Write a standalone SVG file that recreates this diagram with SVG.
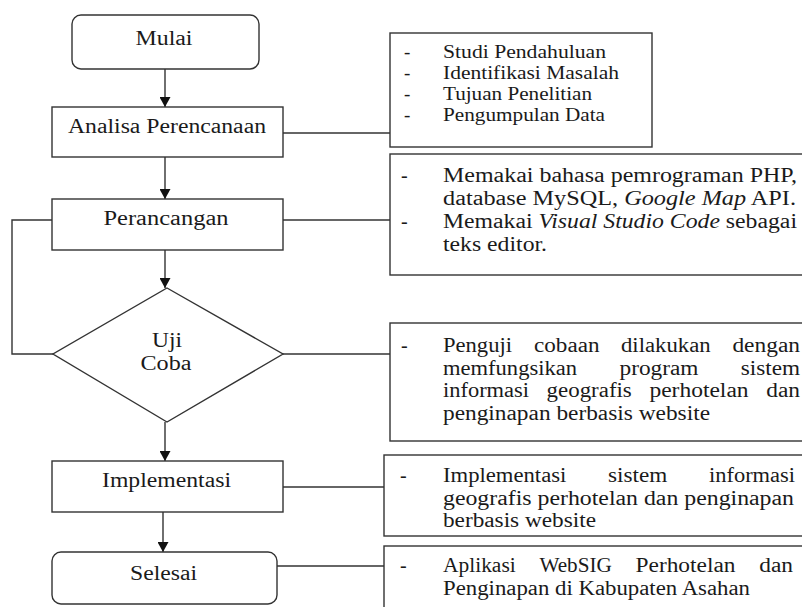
<svg xmlns="http://www.w3.org/2000/svg" width="802" height="607" viewBox="0 0 802 607">
<defs>
<marker id="arr" markerUnits="userSpaceOnUse" markerWidth="11" markerHeight="11" refX="10" refY="5.5" orient="auto">
<path d="M0,0 L10,5.5 L0,11 z" fill="#111"/>
</marker>
<style>
.s{fill:#fff;stroke:#333;stroke-width:1.4}
.c{fill:none;stroke:#333;stroke-width:1.4}
.t{fill:#1a1a1a}
.m{font-size:20px;text-anchor:middle}
.n{font-size:20px}
.n1{font-size:19px}
.i{font-style:italic}
</style>
</defs>
<rect width="802" height="607" fill="#fff"/>
<g id="connectors">
<line class="c" x1="165" y1="69" x2="165" y2="107" marker-end="url(#arr)"/>
<line class="c" x1="165" y1="157" x2="165" y2="199" marker-end="url(#arr)"/>
<line class="c" x1="165" y1="250" x2="165" y2="288" marker-end="url(#arr)"/>
<line class="c" x1="165" y1="422" x2="165" y2="461" marker-end="url(#arr)"/>
<line class="c" x1="163" y1="512" x2="163" y2="552" marker-end="url(#arr)"/>
<polyline class="c" points="52,220 12,220 12,354 53,354"/>
<line class="c" x1="283" y1="133" x2="390" y2="133"/>
<line class="c" x1="283" y1="220" x2="390" y2="220"/>
<line class="c" x1="283" y1="354" x2="390" y2="354"/>
<line class="c" x1="283" y1="487" x2="384" y2="487"/>
<line class="c" x1="277" y1="566" x2="384" y2="566"/>
</g>
<g font-family="Liberation Serif, Times New Roman, serif">
<g id="mulai">
<rect class="s" x="72" y="15" width="187" height="54" rx="9"/>
<text class="t m" x="164" y="45" textLength="57" lengthAdjust="spacingAndGlyphs">Mulai</text>
</g>
<g id="analisa">
<rect class="s" x="52" y="107" width="231" height="50"/>
<text class="t m" x="167" y="133" textLength="198" lengthAdjust="spacingAndGlyphs">Analisa Perencanaan</text>
</g>
<g id="perancangan">
<rect class="s" x="52" y="199" width="231" height="51"/>
<text class="t m" x="166" y="225" textLength="125" lengthAdjust="spacingAndGlyphs">Perancangan</text>
</g>
<g id="ujicoba">
<polygon class="s" points="167,288 283,354 167,422 53,354"/>
<text class="t m" x="167" y="347" textLength="30" lengthAdjust="spacingAndGlyphs">Uji</text>
<text class="t m" x="166" y="370" textLength="51" lengthAdjust="spacingAndGlyphs">Coba</text>
</g>
<g id="implementasi">
<rect class="s" x="52" y="461" width="231" height="51"/>
<text class="t m" x="166.5" y="487" textLength="129" lengthAdjust="spacingAndGlyphs">Implementasi</text>
</g>
<g id="selesai">
<rect class="s" x="52" y="552" width="225" height="52" rx="9"/>
<text class="t m" x="163.5" y="580" textLength="67" lengthAdjust="spacingAndGlyphs">Selesai</text>
</g>
<g id="note1">
<rect class="s" x="390" y="33" width="262" height="114"/>
<g class="t n1">
<text x="404" y="58">-</text><text x="443" y="58" textLength="163" lengthAdjust="spacingAndGlyphs">Studi Pendahuluan</text>
<text x="404" y="79">-</text><text x="443" y="79" textLength="176" lengthAdjust="spacingAndGlyphs">Identifikasi Masalah</text>
<text x="404" y="100">-</text><text x="443" y="100" textLength="149" lengthAdjust="spacingAndGlyphs">Tujuan Penelitian</text>
<text x="404" y="121">-</text><text x="443" y="121" textLength="162" lengthAdjust="spacingAndGlyphs">Pengumpulan Data</text>
</g>
</g>
<g id="note2">
<rect class="s" x="390" y="154" width="420" height="121"/>
<g class="t n">
<text x="401" y="182">-</text>
<text x="443" y="182" textLength="354" lengthAdjust="spacingAndGlyphs">Memakai  bahasa pemrograman PHP,</text>
<text x="443" y="205" textLength="353" lengthAdjust="spacingAndGlyphs">database MySQL, <tspan class="i">Google Map</tspan> API.</text>
<text x="401" y="228">-</text>
<text x="443" y="228" textLength="354" lengthAdjust="spacingAndGlyphs">Memakai <tspan class="i">Visual Studio Code</tspan> sebagai</text>
<text x="443" y="251" textLength="104" lengthAdjust="spacingAndGlyphs">teks editor.</text>
</g>
</g>
<g id="note3">
<rect class="s" x="390" y="323" width="420" height="118"/>
<g class="t n">
<text x="401" y="352">-</text>
<text x="443" y="352" textLength="69" lengthAdjust="spacingAndGlyphs">Penguji</text>
<text x="534" y="352" textLength="65.5" lengthAdjust="spacingAndGlyphs">cobaan</text>
<text x="621" y="352" textLength="89.6" lengthAdjust="spacingAndGlyphs">dilakukan</text>
<text x="732.4" y="352" textLength="67.6" lengthAdjust="spacingAndGlyphs">dengan</text>
<text x="443" y="375" textLength="134" lengthAdjust="spacingAndGlyphs">memfungsikan</text>
<text x="619.5" y="375" textLength="79" lengthAdjust="spacingAndGlyphs">program</text>
<text x="740.8" y="375" textLength="59.2" lengthAdjust="spacingAndGlyphs">sistem</text>
<text x="443" y="397" textLength="86" lengthAdjust="spacingAndGlyphs">informasi</text>
<text x="546.6" y="397" textLength="85.2" lengthAdjust="spacingAndGlyphs">geografis</text>
<text x="649.4" y="397" textLength="99.2" lengthAdjust="spacingAndGlyphs">perhotelan</text>
<text x="766.2" y="397" textLength="33.8" lengthAdjust="spacingAndGlyphs">dan</text>
<text x="443" y="420" textLength="267" lengthAdjust="spacingAndGlyphs">penginapan berbasis website</text>
</g>
</g>
<g id="note4">
<rect class="s" x="384" y="455" width="426" height="81"/>
<g class="t n">
<text x="400" y="482">-</text>
<text x="443" y="482" textLength="123.3" lengthAdjust="spacingAndGlyphs">Implementasi</text>
<text x="608" y="482" textLength="59.2" lengthAdjust="spacingAndGlyphs">sistem</text>
<text x="709" y="482" textLength="86" lengthAdjust="spacingAndGlyphs">informasi</text>
<text x="443" y="505" textLength="351" lengthAdjust="spacingAndGlyphs">geografis perhotelan dan penginapan</text>
<text x="443" y="527" textLength="153" lengthAdjust="spacingAndGlyphs">berbasis website</text>
</g>
</g>
<g id="note5">
<rect class="s" x="384" y="546" width="426" height="70"/>
<g class="t n">
<text x="400" y="572">-</text>
<text x="443" y="572" textLength="72.7" lengthAdjust="spacingAndGlyphs">Aplikasi</text>
<text x="539.4" y="572" textLength="72.4" lengthAdjust="spacingAndGlyphs">WebSIG</text>
<text x="635.5" y="572" textLength="100" lengthAdjust="spacingAndGlyphs">Perhotelan</text>
<text x="759.2" y="572" textLength="33.8" lengthAdjust="spacingAndGlyphs">dan</text>
<text x="443" y="595" textLength="307" lengthAdjust="spacingAndGlyphs">Penginapan di Kabupaten Asahan</text>
</g>
</g>
</g>
</svg>
